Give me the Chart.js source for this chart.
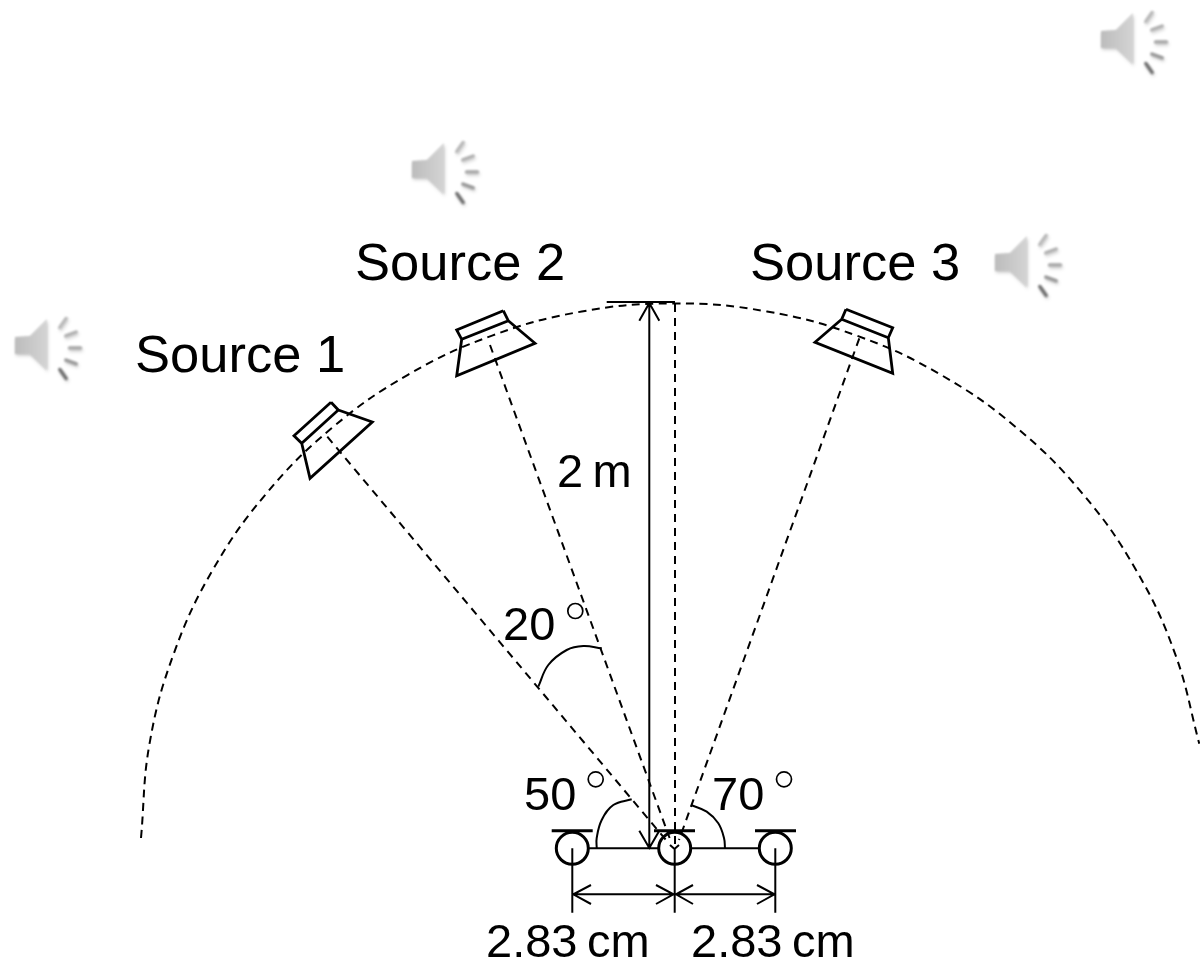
<!DOCTYPE html>
<html>
<head>
<meta charset="utf-8">
<title>Source layout</title>
<script src="https://cdn.jsdelivr.net/npm/chart.js@4"></script>
<style>
  html, body { margin: 0; padding: 0; background: #fff; }
  #wrap { width: 1200px; height: 963px; }
</style>
</head>
<body>
<div id="wrap"><canvas id="diagram" width="1200" height="963"></canvas></div>
<script>
const arcX = [141, 149.5, 173.6, 212.8, 266.1, 331.8, 407.9, 492.1, 581.8, 674.4, 767, 856.7, 940.9, 1017, 1082.7, 1136, 1175.2, 1199.3];
const arcY = [838, 743.8, 654.1, 569.9, 493.8, 428.1, 374.8, 335.6, 311.5, 303.4, 311.5, 335.6, 374.8, 428.1, 493.8, 569.9, 654.1, 743.8];

const rayX = [327.3, 666, null, 490, 669.6, null, 859.3, 679, null, 675, 675];
const rayY = [436.7, 840, null, 345, 838, null, 338.3, 840, null, 304, 846];

const speakerX = [
  331, 294, 301.7, 338.3, 331, null, 301.7, 310, 372.3, 338.3, null,
  503.3, 456.7, 461.7, 508.3, 503.3, null, 461.7, 456.7, 535, 508.3, null,
  846, 892.7, 888.3, 841.7, 846, null, 841.7, 815, 892.7, 888.3
];
const speakerY = [
  402.3, 435.7, 443.3, 410, 402.3, null, 443.3, 478.3, 422, 410, null,
  310.7, 330, 339.3, 320.7, 310.7, null, 339.3, 375.7, 343.3, 320.7, null,
  309.3, 327.7, 337.7, 319.3, 309.3, null, 319.3, 342.3, 373.3, 337.7
];

const barX = [551.7, 592.7, null, 654, 695, null, 755, 796];
const barY = [830.7, 830.7, null, 830.7, 830.7, null, 830.7, 830.7];

const thinX = [
  606.7, 675, null,
  649.3, 649.3, null, 639.3, 649.3, 659.3, null, 639.3, 649.3, 659.3, null,
  589, 658, null, 691, 759, null,
  572.3, 572.3, null, 674.7, 674.7, null, 775.3, 775.3, null,
  572.3, 775.3, null,
  591, 573.3, 591, null, 656, 673.5, 656, null, 693, 676, 693, null, 757, 774.5, 757, null,
  670, 674.5, 679
];
const thinY = [
  302, 302, null,
  303, 848, null, 320.7, 303, 320.7, null, 830.7, 848, 830.7, null,
  848.3, 848.3, null, 848.3, 848.3, null,
  848.3, 912.7, null, 848.3, 912.7, null, 848.3, 912.7, null,
  894.3, 894.3, null,
  885, 894.3, 904, null, 885, 894.3, 904, null, 885, 894.3, 904, null, 885, 894.3, 904, null,
  845, 849, 845
];

const angleX = [538.3, 548.3, 566.7, 583.3, 601.7, null, 596.7, 596.7, 601.7, 613.3, 631.7, null, 725, 724, 718.3, 706.7, 691];
const angleY = [686.7, 665, 650, 646, 648.3, null, 848.3, 838, 820, 805, 799.3, null, 848.3, 838, 823.3, 811.7, 805];

const micX = [572.3, 674.7, 775.3];
const micY = [848.3, 848.3, 848.3];

const degreeX = [575.3, 595.7, 784];
const degreeY = [611, 779.3, 779.3];

const iconX = [49, 446, 1029, 1135];
const iconY = [350, 174, 267, 44];

const labelText = ['Source 1', 'Source 2', 'Source 3', '2\u2009m', '20', '50', '70', '2.83\u2009cm', '2.83\u2009cm'];
const labelX = [135, 355, 750, 557, 503, 524, 712, 486, 691];
const labelY = [372, 280, 280, 487, 640, 810, 810, 957, 957];
const labelSize = [52.5, 52.5, 52.5, 47, 47, 47, 47, 47, 47];

const zip = (xs, ys) => xs.map((x, i) => ({ x, y: ys[i] }));

// the little grey loudspeaker, drawn once and used as a point style
const makeIcon = () => {
  const icon = document.createElement('canvas');
  icon.width = 74;
  icon.height = 74;
  const c = icon.getContext('2d');
  c.translate(2, 2);
  c.filter = 'blur(0.9px)';
  c.shadowColor = 'rgba(0, 0, 0, 0.18)';
  c.shadowBlur = 3;
  c.shadowOffsetX = 1;
  c.shadowOffsetY = 2;

  const fill = c.createLinearGradient(1, 0, 33, 0);
  fill.addColorStop(0, '#bcbcbc');
  fill.addColorStop(1, '#d4d4d4');
  c.fillStyle = fill;
  c.beginPath();
  [[1, 22], [16, 21], [33, 4], [33, 55], [16, 39], [1, 39]].forEach(([x, y], i) => {
    if (i === 0) c.moveTo(x, y);
    else c.lineTo(x, y);
  });
  c.closePath();
  c.fill();

  const ticks = [[49, 8, -55, '#b8b8b8'], [57, 19, -20, '#b0b0b0'], [61, 33, 0, '#a8a8a8'], [57, 47, 20, '#999'], [49, 59, 55, '#6f6f6f']];
  c.lineCap = 'round';
  ticks.forEach(([x, y, deg, color]) => {
    const dx = Math.cos(deg * Math.PI / 180) * 5.5;
    const dy = Math.sin(deg * Math.PI / 180) * 5.5;
    c.strokeStyle = color;
    c.lineWidth = 3.4;
    c.beginPath();
    c.moveTo(x - dx, y - dy);
    c.lineTo(x + dx, y + dy);
    c.stroke();
  });
  return icon;
};

const labelPlugin = {
  id: 'labels',
  afterDatasetsDraw(chart) {
    const { ctx, scales } = chart;
    ctx.save();
    ctx.fillStyle = '#000';
    ctx.textBaseline = 'alphabetic';
    labelText.forEach((text, i) => {
      ctx.font = `${labelSize[i]}px "Liberation Sans"`;
      ctx.fillText(text, scales.x.getPixelForValue(labelX[i]), scales.y.getPixelForValue(labelY[i]));
    });
    ctx.restore();
  }
};

const lineSet = (label, xs, ys, width, extra = {}) => ({
  label,
  data: zip(xs, ys),
  showLine: true,
  borderColor: '#000',
  borderWidth: width,
  pointRadius: 0,
  spanGaps: false,
  ...extra
});

new Chart(document.getElementById('diagram'), {
  type: 'scatter',
  data: {
    datasets: [
      lineSet('arc', arcX, arcY, 2, { borderDash: [8, 5.5], tension: 0.4 }),
      lineSet('rays', rayX, rayY, 2, { borderDash: [8, 6] }),
      lineSet('speakers', speakerX, speakerY, 2.8),
      lineSet('bars', barX, barY, 3),
      lineSet('thin', thinX, thinY, 2),
      lineSet('angles', angleX, angleY, 2, { tension: 0.4 }),
      {
        label: 'mics',
        data: zip(micX, micY),
        pointRadius: 16,
        pointBorderWidth: 3,
        pointBorderColor: '#000',
        pointBackgroundColor: 'transparent'
      },
      {
        label: 'degrees',
        data: zip(degreeX, degreeY),
        pointRadius: 7.5,
        pointBorderWidth: 1.7,
        pointBorderColor: '#000',
        pointBackgroundColor: 'transparent'
      },
      {
        label: 'icons',
        data: zip(iconX, iconY),
        pointStyle: makeIcon()
      }
    ]
  },
  options: {
    responsive: false,
    animation: false,
    layout: { padding: 0, autoPadding: false },
    plugins: { legend: { display: false }, tooltip: { enabled: false } },
    scales: {
      x: { type: 'linear', display: false, min: 0, max: 1200 },
      y: { type: 'linear', display: false, min: 0, max: 963, reverse: true }
    }
  },
  plugins: [labelPlugin]
});
</script>
</body>
</html>
